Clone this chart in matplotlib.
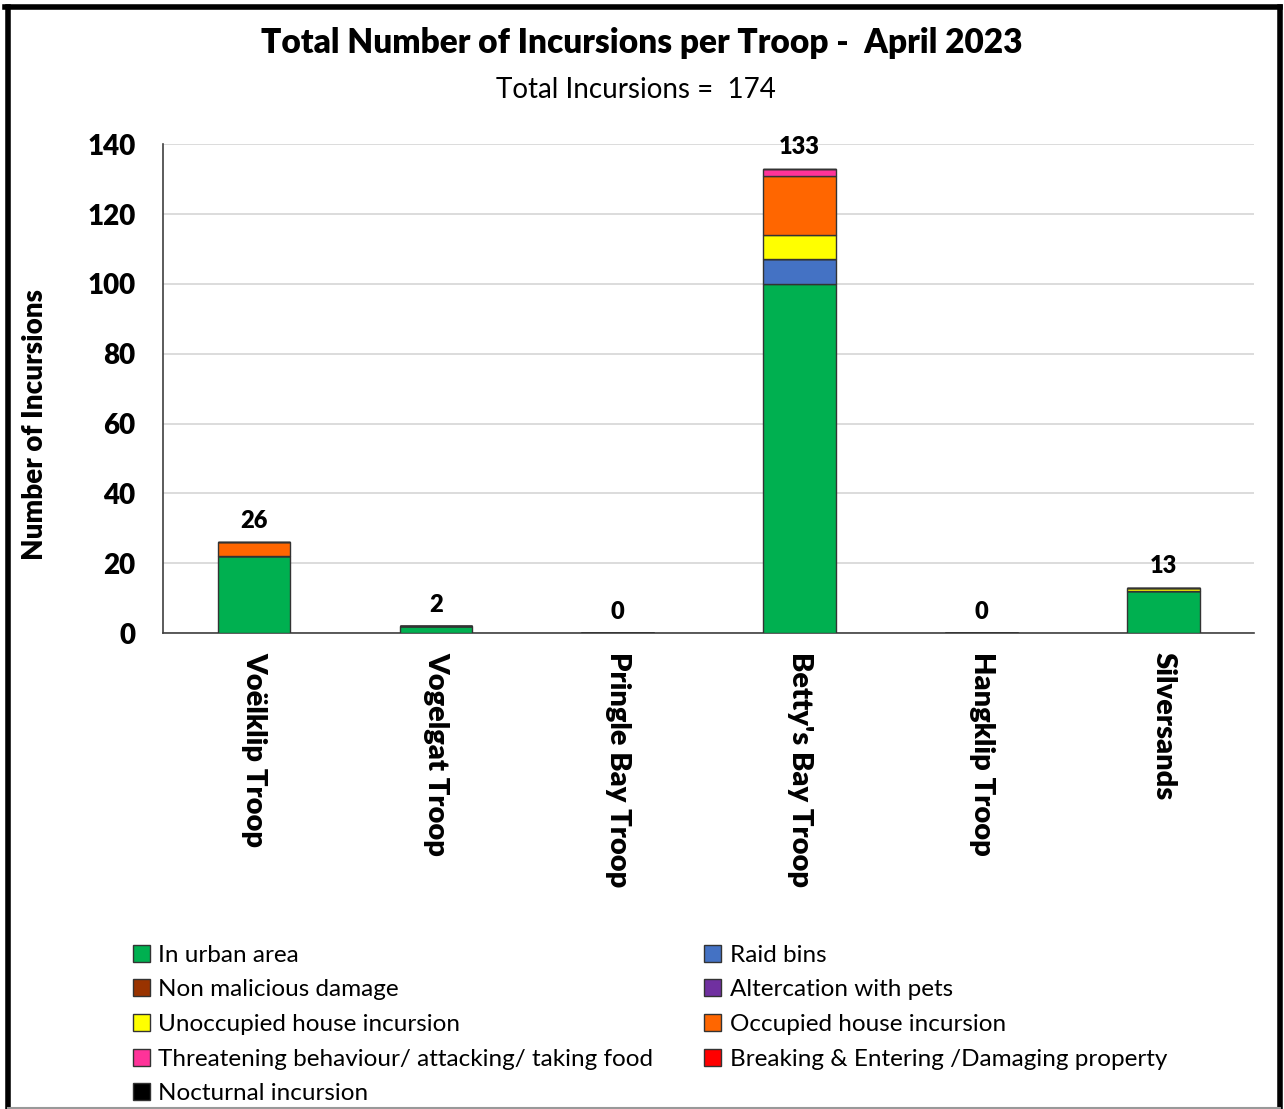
import numpy as np
import matplotlib.pyplot as plt
from matplotlib.lines import Line2D

plt.rcParams['font.family'] = ['Lato', 'DejaVu Sans']

troops = ['Voëlklip Troop', 'Vogelgat Troop', 'Pringle Bay Troop',
          "Betty's Bay Troop", 'Hangklip Troop', 'Silversands']

categories = ['In urban area', 'Raid bins', 'Non malicious damage', 'Altercation with pets',
              'Unoccupied house incursion', 'Occupied house incursion',
              'Threatening behaviour/ attacking/ taking food',
              'Breaking & Entering /Damaging property', 'Nocturnal incursion']
colors = ['#00B050', '#4472C4', '#993300', '#7030A0', '#FFFF00', '#FF6600',
          '#FF3399', '#FF0000', '#000000']

urban = [22, 2, 0, 100, 0, 12]
raid_bins = [0, 0, 0, 7, 0, 0]
non_malicious = [0, 0, 0, 0, 0, 0]
pets = [0, 0, 0, 0, 0, 0]
unoccupied = [0, 0, 0, 7, 0, 1]
occupied = [4, 0, 0, 17, 0, 0]
threatening = [0, 0, 0, 2, 0, 0]
breaking = [0, 0, 0, 0, 0, 0]
nocturnal = [0, 0, 0, 0, 0, 0]

series = [urban, raid_bins, non_malicious, pets, unoccupied, occupied,
          threatening, breaking, nocturnal]

fig = plt.figure(figsize=(12.84, 11.09), dpi=100)
ax = fig.add_axes([0.127, 0.4292, 0.850, 0.4408])

x = np.arange(len(troops))
bottom = np.zeros(len(troops))
handles = []
for vals, col, name in zip(series, colors, categories):
    vals = np.array(vals, dtype=float)
    ax.bar(x, vals, 0.4, bottom=bottom, color=col, edgecolor='#333333', linewidth=1, zorder=3)
    bottom += vals
    handles.append(plt.Rectangle((0, 0), 1, 1, facecolor=col, edgecolor='#333333', linewidth=1))

totals = bottom
for xi, t in zip(x, totals):
    ax.text(xi, t + 3, f'{int(t)}', ha='center', va='bottom', fontsize=17, fontweight='heavy')

ax.set_xlim(-0.5, len(troops) - 0.5)
ax.set_ylim(0, 140)
ax.set_yticks(range(0, 141, 20))
ax.yaxis.grid(True, color='#d9d9d9', linewidth=1.3, zorder=0)
ax.set_axisbelow(True)
for s in ['top', 'right']:
    ax.spines[s].set_visible(False)
for s in ['left', 'bottom']:
    ax.spines[s].set_color('#404040')
    ax.spines[s].set_linewidth(1.2)
ax.tick_params(axis='y', length=0, pad=20)
ax.tick_params(axis='x', length=0, pad=14)
ax.set_xticks(x)
ax.set_xticklabels(troops, rotation=270, fontsize=21, fontweight='heavy', va='top', ha='center')
for lab in ax.get_yticklabels():
    lab.set_fontsize(20)
    lab.set_fontweight('heavy')
ax.set_ylabel('Number of Incursions', fontsize=20, fontweight='heavy')
ax.yaxis.set_label_coords(-0.105, 0.427)

fig.text(0.5, 0.961, 'Total Number of Incursions per Troop -  April 2023', ha='center', va='center',
         fontsize=24, fontweight='heavy')
fig.text(0.495, 0.919, 'Total Incursions =  174', ha='center', va='center', fontsize=20)

order = [0, 2, 4, 6, 8, 1, 3, 5, 7]
fig.legend([handles[i] for i in order], [categories[i] for i in order], ncol=2,
           loc='upper left', bbox_to_anchor=(0.094, 0.159), frameon=False, fontsize=17.5,
           handlelength=0.7, handleheight=0.7, handletextpad=0.35, labelspacing=0.56,
           columnspacing=2.1, borderpad=0)

# outer frame
fig.add_artist(Line2D([0.006, 0.006], [0.0, 0.994], color='black', linewidth=4, transform=fig.transFigure))
fig.add_artist(Line2D([0.004, 0.997], [0.994, 0.994], color='black', linewidth=4, transform=fig.transFigure))
fig.add_artist(Line2D([0.997, 0.997], [0.0, 0.994], color='black', linewidth=4, transform=fig.transFigure))
fig.add_artist(Line2D([0.006, 0.997], [0.001, 0.001], color='#999999', linewidth=1.5, transform=fig.transFigure))

fig.savefig('out.png', dpi=100)
